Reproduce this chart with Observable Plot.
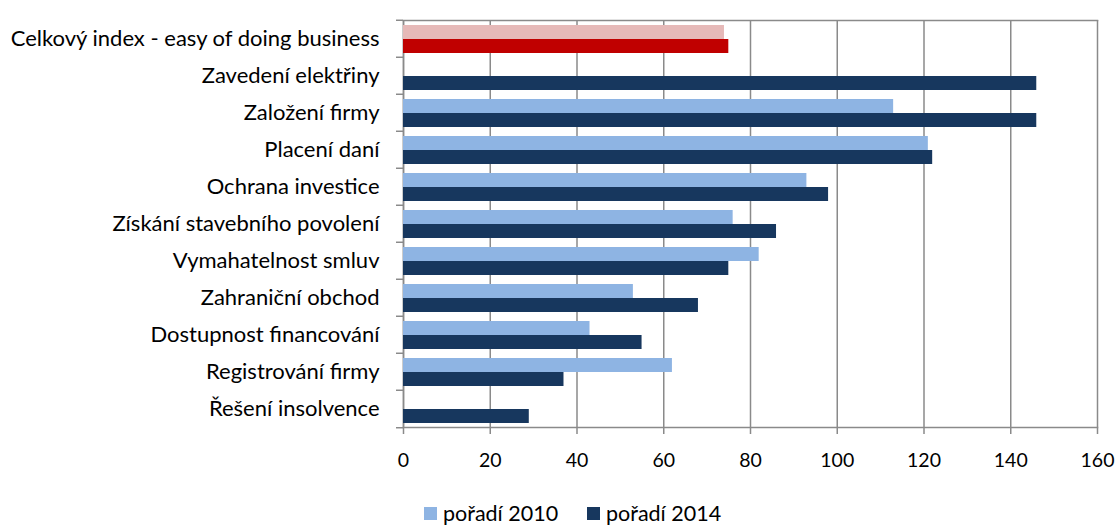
<!DOCTYPE html>
<html>
<head>
<meta charset="utf-8">
<script src="https://cdn.jsdelivr.net/npm/d3@7"></script>
<script src="https://cdn.jsdelivr.net/npm/@observablehq/plot@0.6"></script>
<style>
  html, body { margin: 0; padding: 0; background: #fff; }
  #wrap { position: relative; width: 1117px; height: 525px; font-family: Lato, sans-serif; }
  #legend { position: absolute; top: 500px; left: 0; width: 1117px; height: 26px; font: 21.5px Lato, sans-serif; color: #000; line-height: 26px; }
  .item { position: absolute; top: 0; display: flex; align-items: center; white-space: nowrap; }
  .sw { display: inline-block; width: 13px; height: 13px; margin-right: 6px; }
</style>
</head>
<body>
<div id="wrap"><div id="chart"></div><div id="legend"></div></div>
<script>
const categories = [
  "Celkový index - easy of doing business",
  "Zavedení elektřiny",
  "Založení firmy",
  "Placení daní",
  "Ochrana investice",
  "Získání stavebního povolení",
  "Vymahatelnost smluv",
  "Zahraniční obchod",
  "Dostupnost financování",
  "Registrování firmy",
  "Řešení insolvence"
];
const values2010 = [74, null, 113, 121, 93, 76, 82, 53, 43, 62, null];
const values2014 = [75, 146, 146, 122, 98, 86, 75, 68, 55, 37, 29];
const seriesNames = ["pořadí 2010", "pořadí 2014"];
const seriesColors = ["#8EB4E3", "#17375E"];
const highlightColors = ["#E6B9B8", "#C00000"];
const xTicks = [0, 20, 40, 60, 80, 100, 120, 140, 160];

const data = [];
categories.forEach((c, i) => {
  [values2010, values2014].forEach((vals, s) => {
    if (vals[i] != null) data.push({category: c, series: seriesNames[s], value: vals[i], idx: i, s});
  });
});

const W = 1117, H = 485, mT = 17, mB = 56, mL = 403, mR = 20;
const rowStep = (H - mT - mB) / categories.length;
const grid = "#8a8a8a";

const chart = Plot.plot({
  width: W, height: H,
  marginTop: mT, marginBottom: mB, marginLeft: mL, marginRight: mR,
  style: {fontFamily: "Lato, sans-serif", fontSize: "20px", color: "#000", background: "#fff"},
  x: {domain: [0, 160], ticks: xTicks, label: null},
  y: {domain: seriesNames, paddingInner: 0, paddingOuter: 0.29, axis: null},
  fy: {domain: categories, padding: 0, label: null},
  color: {type: "identity"},
  marks: [
    Plot.gridX(xTicks, {stroke: grid, strokeOpacity: 1, strokeWidth: 1.5}),
    Plot.ruleX([0], {stroke: grid, strokeWidth: 1.5}),
    Plot.frame({anchor: "top", facetAnchor: "top", stroke: grid, strokeWidth: 1.5}),
    Plot.frame({anchor: "bottom", facetAnchor: "bottom", stroke: grid, strokeWidth: 1.5}),
    Plot.barX(data, {
      fy: "category", y: "series", x: "value",
      fill: d => d.idx === 0 ? highlightColors[d.s] : seriesColors[d.s]
    }),
    Plot.axisX({anchor: "bottom", ticks: xTicks, tickSize: 7, tickPadding: 19, stroke: grid, strokeWidth: 1.5, strokeOpacity: 1, label: null, fontSize: 19.5}),
    Plot.axisFy({anchor: "left", tickSize: 0, tickPadding: 24, label: null, fontSize: 22}),
    Plot.axisFy({anchor: "left", tickSize: 7, tickFormat: () => "", dy: -rowStep / 2, label: null, stroke: grid, strokeWidth: 1.5, strokeOpacity: 1}),
    Plot.axisFy({anchor: "left", ticks: [categories[categories.length - 1]], tickSize: 7, tickFormat: () => "", dy: rowStep / 2, label: null, stroke: grid, strokeWidth: 1.5, strokeOpacity: 1})
  ]
});
document.getElementById("chart").appendChild(chart);

const legendLeft = [424, 587];
const legend = d3.select("#legend");
seriesNames.forEach((n, i) => {
  const it = legend.append("div").attr("class", "item").style("left", legendLeft[i] + "px");
  it.append("span").attr("class", "sw").style("background", seriesColors[i]);
  it.append("span").text(n);
});
</script>
</body>
</html>
